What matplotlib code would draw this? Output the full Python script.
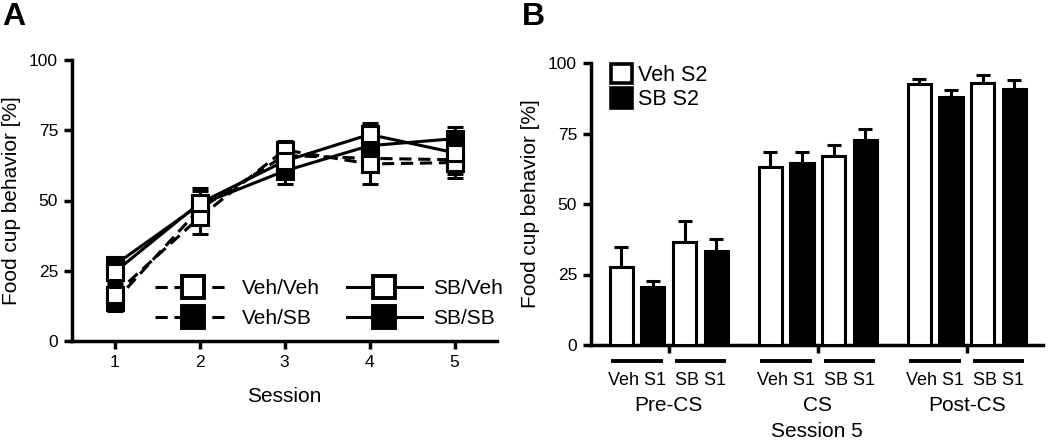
import matplotlib
matplotlib.use("Agg")
import matplotlib.pyplot as plt
import numpy as np
from matplotlib.patches import Patch
from matplotlib.lines import Line2D

plt.rcParams['font.family'] = ['Liberation Sans', 'DejaVu Sans']

# ---------------- Panel A data ----------------
sessions = [1, 2, 3, 4, 5]
vehveh_mean = [16.5, 44.0, 68.0, 63.0, 63.5]
vehveh_err = [3.5, 6.0, 3.0, 7.0, 5.5]
vehsb_mean = [14.0, 47.0, 66.0, 65.0, 64.5]
vehsb_err = [3.5, 4.5, 3.5, 4.0, 5.0]
sbveh_mean = [24.5, 49.0, 64.0, 73.5, 67.0]
sbveh_err = [4.0, 5.5, 5.0, 4.0, 5.5]
sbsb_mean = [27.0, 48.5, 60.5, 69.5, 72.0]
sbsb_err = [3.0, 5.0, 4.5, 4.5, 4.0]
series_names = ['Veh/Veh', 'Veh/SB', 'SB/Veh', 'SB/SB']

# ---------------- Panel B data ----------------
phases = ['Pre-CS', 'CS', 'Post-CS']
s1_labels = ['Veh S1', 'SB S1']
# order: Pre(Veh S1, SB S1), CS(Veh S1, SB S1), Post(Veh S1, SB S1)
vehS2_mean = [27.8, 36.4, 63.1, 66.9, 92.7, 92.9]
vehS2_err = [6.9, 7.5, 5.4, 3.9, 1.6, 2.8]
sbS2_mean = [20.7, 33.5, 64.4, 72.7, 87.9, 90.8]
sbS2_err = [2.0, 4.0, 3.9, 4.0, 2.4, 3.0]
yticks = [0, 25, 50, 75, 100]

LW = 2.2
fig = plt.figure(figsize=(10.5, 4.41), dpi=100)

# ================= Panel A =================
axA = fig.add_axes([72/1050, 1-341/441, 425/1050, 281/441])
styles = [
    (vehveh_mean, vehveh_err, (0, (4, 2.2)), 'white'),
    (vehsb_mean, vehsb_err, (0, (4, 2.2)), 'black'),
    (sbveh_mean, sbveh_err, '-', 'white'),
    (sbsb_mean, sbsb_err, '-', 'black'),
]
handles = []
for (m, e, ls, fc), name in zip(styles, series_names):
    axA.errorbar(sessions, m, yerr=e, color='black', ls='none',
                 elinewidth=LW, capsize=6, capthick=LW, zorder=2)
    axA.plot(sessions, m, color='black', ls=ls, lw=LW, zorder=3)
    axA.plot(sessions, m, ls='none', marker='s', ms=11.5, mfc=fc,
             mec='black', mew=LW, zorder=5 if fc == 'white' else 4)
    handles.append(Line2D([], [], color='black', ls=ls, lw=LW, marker='s',
                          ms=16, mfc=fc, mec='black', mew=LW+0.6))
axA.legend(handles, series_names, ncol=2, loc='center',
           bbox_to_anchor=(0.605, 0.133), frameon=False, fontsize=15,
           handlelength=3.6, handletextpad=0.55, columnspacing=1.3,
           labelspacing=0.55, borderpad=0)
axA.set_xlim(0.5, 5.5)
axA.set_ylim(0, 100)
axA.set_xticks(sessions)
axA.set_yticks(yticks)
axA.set_xlabel('Session', fontsize=15, labelpad=12)
axA.set_ylabel('Food cup behavior [%]', fontsize=15, labelpad=6)

# ================= Panel B =================
axB = fig.add_axes([591/1050, 1-345/441, 452/1050, 282/441])
gstep = 4.7
bw = 0.73
for g in range(len(phases)):
    for k in range(len(s1_labels)):
        i = g*2 + k
        xw = g*gstep + 2*k
        xb = xw + 1
        axB.bar(xw, vehS2_mean[i], width=bw, color='white', edgecolor='black',
                lw=LW, zorder=3)
        axB.errorbar(xw, vehS2_mean[i], yerr=[[0], [vehS2_err[i]]], color='black',
                     elinewidth=LW, capsize=5, capthick=LW, zorder=2)
        axB.bar(xb, sbS2_mean[i], width=bw, color='black', edgecolor='black',
                lw=LW, zorder=3)
        axB.errorbar(xb, sbS2_mean[i], yerr=[[0], [sbS2_err[i]]], color='black',
                     elinewidth=LW, capsize=5, capthick=LW, zorder=2)
        # underline and sub label
        axB.plot([xw - bw/2 + 0.05, xb + bw/2 - 0.05], [-0.055, -0.055],
                 transform=axB.get_xaxis_transform(), color='black', lw=LW+0.6,
                 clip_on=False, solid_capstyle='butt')
        axB.text((xw+xb)/2, -0.095, s1_labels[k], transform=axB.get_xaxis_transform(),
                 ha='center', va='top', fontsize=13)
    axB.text(g*gstep + 1.5, -0.18, phases[g], transform=axB.get_xaxis_transform(),
             ha='center', va='top', fontsize=15)
axB.text(0.5, -0.272, 'Session 5', transform=axB.transAxes, ha='center', va='top',
         fontsize=15)
axB.set_xlim(-0.95, 2*gstep + 3 + 0.9)
axB.set_ylim(0, 100)
axB.set_yticks(yticks)
axB.set_xticks([g*gstep + 1.5 for g in range(len(phases))])
axB.set_xticklabels([])
axB.set_ylabel('Food cup behavior [%]', fontsize=15, labelpad=6)
legB = axB.legend([Patch(facecolor='white', edgecolor='black', lw=LW+0.4),
                   Patch(facecolor='black', edgecolor='black', lw=LW+0.4)],
                  ['Veh S2', 'SB S2'], loc='upper left', bbox_to_anchor=(0.02, 1.035),
                  frameon=False, fontsize=15.5, handlelength=1.0, handleheight=1.0,
                  handletextpad=0.25, labelspacing=0.12, borderpad=0)

for ax in (axA, axB):
    for s in ('top', 'right'):
        ax.spines[s].set_visible(False)
    for s in ('left', 'bottom'):
        ax.spines[s].set_linewidth(LW+0.3)
    ax.tick_params(width=LW+0.3, length=6, labelsize=12.5, direction='out', pad=4)

fig.text(2/1050, 1-2/441, 'A', fontsize=23, fontweight='bold', ha='left', va='top')
fig.text(522/1050, 1-2/441, 'B', fontsize=23, fontweight='bold', ha='left', va='top')

fig.savefig('out.png', dpi=100)
